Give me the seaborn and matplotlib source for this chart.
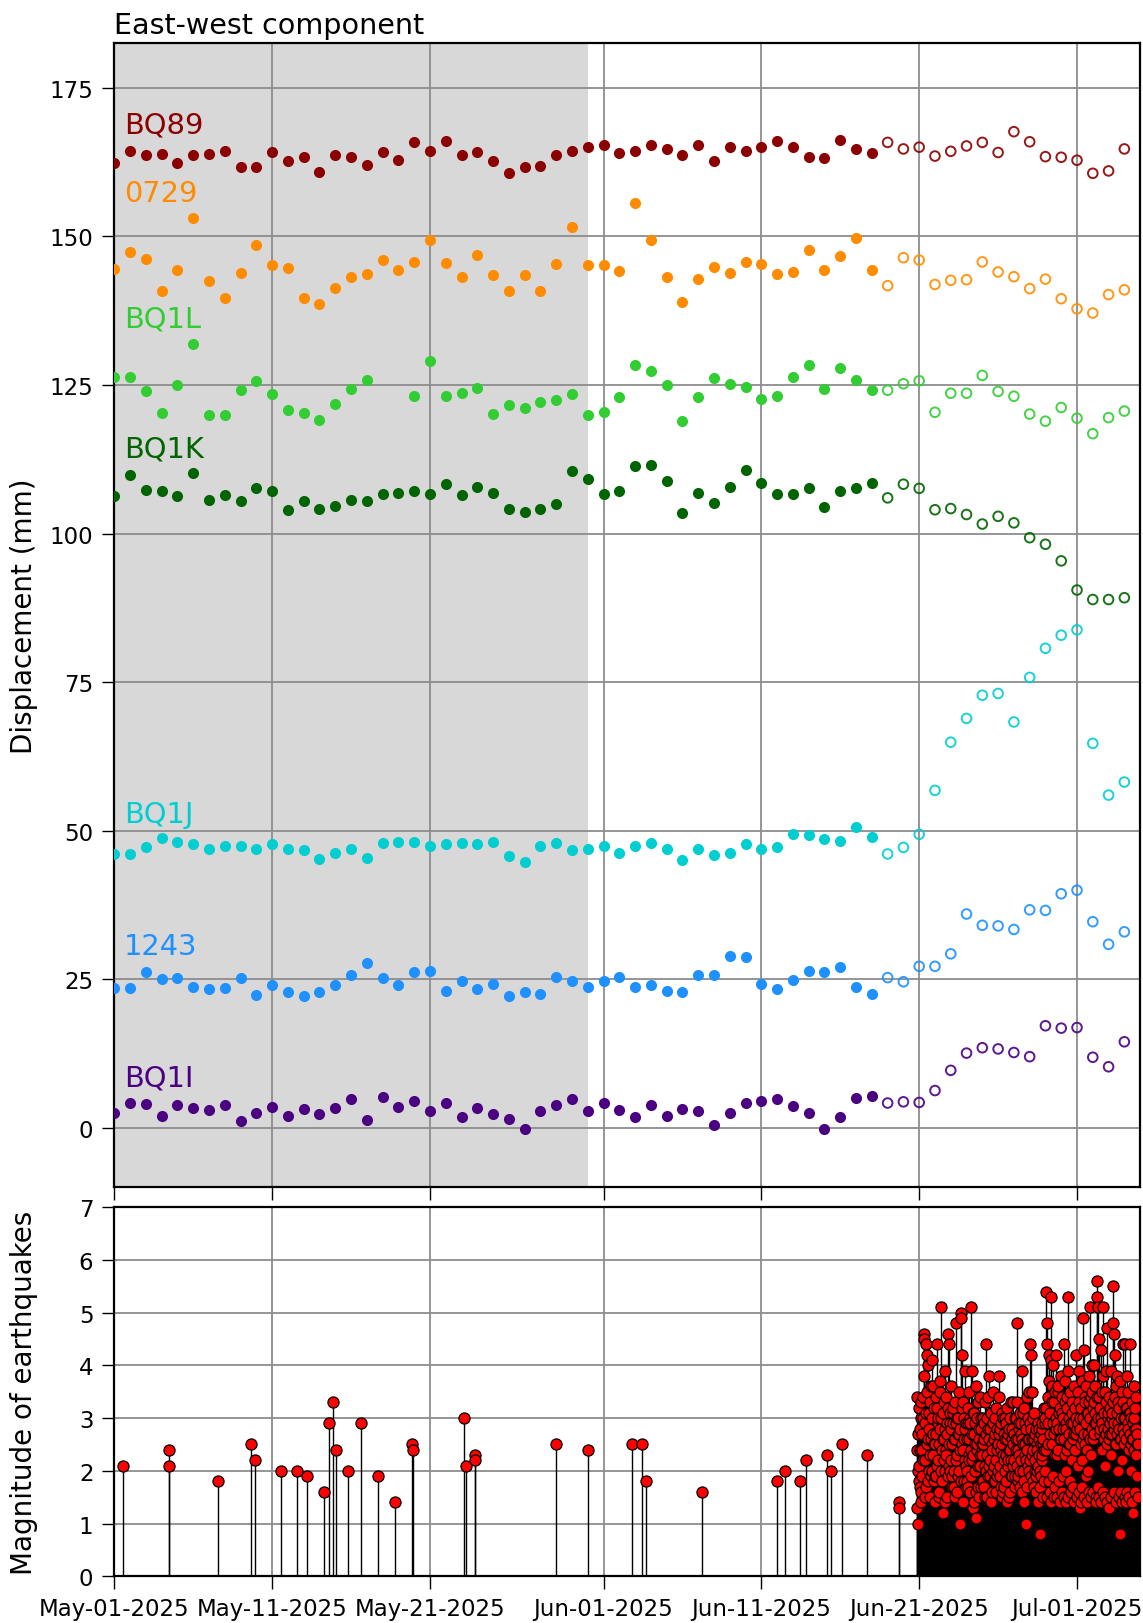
import numpy as np
import pandas as pd
import matplotlib
matplotlib.use("Agg")
import matplotlib.pyplot as plt
import matplotlib.dates as mdates
import seaborn as sns

plt.rcParams["font.family"] = ["DejaVu Sans"]

# ---------------------------------------------------------------- GNSS data
first_day = "2025-05-01"
n_days = 65
rapid_from = "2025-06-19"      # from this day on: rapid solutions (open markers)
reference_period = ("2025-05-01", "2025-05-31")

stations = ["BQ89", "0729", "BQ1L", "BQ1K", "BQ1J", "1243", "BQ1I"]
colors = ["#8b0000", "#ff8c00", "#32cd32", "#006400", "#00ced1", "#1e90ff", "#4b0082"]
label_y = [167.4, 156.0, 134.8, 113.0, 51.5, 29.3, 7.2]

bq89 = [162.4, 164.4, 163.7, 163.9, 162.4, 163.6, 163.8, 164.4, 161.6, 161.6,
        164.2, 162.6, 163.4, 160.8, 163.6, 163.4, 162.0, 164.2, 162.9, 165.8,
        164.4, 166.1, 163.6, 164.2, 162.6, 160.7, 161.6, 161.9, 163.6, 164.4,
        165.0, 165.4, 164.0, 164.4, 165.4, 164.7, 163.6, 165.4, 162.6, 165.0,
        164.4, 165.0, 166.1, 165.0, 163.4, 163.1, 166.2, 164.7, 164.0, 165.8,
        164.7, 165.0, 163.5, 164.3, 165.2, 165.8, 164.1, 167.6, 165.9, 163.4,
        163.3, 162.8, 160.6, 161.0, 164.7]
s0729 = [144.5, 147.3, 146.1, 140.8, 144.3, 153.0, 142.4, 139.7, 143.9, 148.6,
         145.2, 144.6, 139.7, 138.6, 141.3, 143.1, 143.7, 146.0, 144.4, 145.7,
         149.3, 145.5, 143.1, 146.9, 143.5, 140.8, 143.5, 140.8, 145.3, 151.6,
         145.1, 145.1, 144.2, 155.6, 149.3, 143.1, 139.0, 142.8, 144.9, 143.8,
         145.7, 145.3, 143.7, 144.0, 147.7, 144.3, 146.7, 149.8, 144.3, 141.7,
         146.4, 146.0, 141.9, 142.6, 142.7, 145.7, 144.0, 143.2, 141.2, 142.8,
         139.5, 137.8, 137.1, 140.2, 141.0]
bq1l = [126.4, 126.4, 123.9, 120.3, 125.0, 131.9, 119.9, 119.9, 124.1, 125.7,
        123.4, 120.7, 120.3, 119.1, 121.8, 124.3, 125.9, np.nan, np.nan, 123.1,
        129.0, 123.2, 123.6, 124.4, 120.1, 121.7, 121.2, 122.1, 122.5, 123.4,
        120.0, 120.5, 123.0, 128.4, 127.3, 125.0, 119.0, 123.0, 126.2, 125.2,
        124.6, 122.7, 123.2, 126.4, 128.3, 124.3, 127.9, 125.9, 124.1, 124.1,
        125.2, 125.7, 120.4, 123.6, 123.6, 126.6, 123.9, 123.1, 120.1, 118.9,
        121.2, 119.4, 116.8, 119.5, 120.6]
bq1k = [106.3, 109.8, 107.3, 107.1, 106.3, 110.2, 105.7, 106.5, 105.4, 107.6,
        107.1, 104.0, 105.4, 104.2, 104.7, 105.7, 105.5, 106.7, 106.9, 107.1,
        106.7, 108.3, 106.5, 107.9, 106.9, 104.1, 103.6, 104.2, 104.9, 110.5,
        109.1, 106.7, 107.1, 111.3, 111.6, 108.9, 103.4, 106.9, 105.1, 107.9,
        110.7, 108.5, 106.7, 106.7, 107.6, 104.5, 107.1, 107.6, 108.5, 106.0,
        108.3, 107.6, 104.0, 104.2, 103.2, 101.6, 102.9, 101.8, 99.3, 98.2,
        95.4, 90.5, 88.9, 88.9, 89.2]
bq1j = [46.1, 46.1, 47.3, 48.8, 48.1, 47.7, 47.0, 47.5, 47.5, 47.0,
        47.7, 47.0, 46.7, 45.2, 46.3, 47.0, 45.5, 47.9, 48.1, 48.1,
        47.5, 47.7, 47.9, 47.7, 48.1, 45.7, 44.8, 47.5, 47.9, 46.7,
        47.0, 47.5, 46.3, 47.5, 47.9, 47.0, 45.0, 47.0, 45.9, 46.3,
        47.7, 47.0, 47.3, 49.5, 49.3, 48.6, 48.3, 50.6, 49.0, 46.1,
        47.2, 49.4, 56.8, 64.9, 68.9, 72.8, 73.1, 68.3, 75.8, 80.7,
        82.9, 83.8, 64.7, 56.0, 58.2]
s1243 = [23.5, 23.5, 26.2, 25.0, 25.2, 23.8, 23.3, 23.5, 25.2, 22.4,
         24.0, 22.8, 22.2, 22.8, 24.0, 25.8, 27.8, 25.2, 24.0, 26.2,
         26.4, 23.1, 24.7, 23.3, 24.3, 22.2, 22.8, 22.5, 25.4, 24.7,
         23.8, 24.7, 25.4, 23.8, 24.1, 23.1, 22.8, 25.8, 25.8, 28.9,
         28.7, 24.2, 23.3, 24.9, 26.4, 26.2, 27.1, 23.8, 22.6, 25.3,
         24.6, 27.2, 27.2, 29.3, 36.0, 34.1, 34.0, 33.4, 36.7, 36.6,
         39.4, 40.0, 34.7, 30.9, 33.0]
bq1i = [2.5, 4.2, 4.0, 2.1, 3.9, 3.4, 3.1, 3.9, 1.2, 2.6,
        3.6, 2.1, 3.2, 2.4, 3.4, 4.8, 1.4, 5.2, 3.6, 4.6,
        2.8, 4.2, 1.9, 3.3, 2.4, 1.5, -0.2, 2.8, 3.9, 4.8,
        2.8, 4.2, 3.0, 1.9, 3.9, 2.1, 3.2, 2.8, 0.5, 2.6,
        4.2, 4.6, 4.8, 3.7, 2.6, -0.2, 1.9, 5.0, 5.3, 4.2,
        4.4, 4.3, 6.3, 9.7, 12.6, 13.5, 13.3, 12.7, 12.0, 17.2,
        16.8, 16.9, 11.9, 10.3, 14.5]
series = [bq89, s0729, bq1l, bq1k, bq1j, s1243, bq1i]

# ------------------------------------------------------------ earthquakes
quake_times = ["2025-05-01 12:45", "2025-05-04 11:15", "2025-05-04 11:30", "2025-05-07 13:40",
               "2025-05-09 15:35", "2025-05-09 21:35", "2025-05-11 14:10", "2025-05-12 14:25",
               "2025-05-13 04:35", "2025-05-14 06:15", "2025-05-14 14:25", "2025-05-14 20:25",
               "2025-05-15 00:30", "2025-05-15 18:45", "2025-05-16 14:55", "2025-05-17 17:15",
               "2025-05-18 19:00", "2025-05-19 21:20", "2025-05-19 21:30", "2025-05-23 04:05",
               "2025-05-23 07:10", "2025-05-23 20:05", "2025-05-23 20:15", "2025-05-28 23:00",
               "2025-05-31 01:00", "2025-06-02 19:40", "2025-06-03 09:50", "2025-06-03 15:50",
               "2025-06-07 06:15", "2025-06-11 23:45", "2025-06-12 11:15", "2025-06-13 11:30",
               "2025-06-13 20:10", "2025-06-15 04:05", "2025-06-15 10:05", "2025-06-16 02:25",
               "2025-06-17 16:05", "2025-06-19 16:45", "2025-06-19 17:00"]
quake_mags = [2.1, 2.4, 2.1, 1.8, 2.5, 2.2, 2.0, 2.0, 1.9, 1.6,
              2.9, 3.3, 2.4, 2.0, 2.9, 1.9, 1.4, 2.5, 2.4, 3.0,
              2.1, 2.3, 2.2, 2.5, 2.4, 2.5, 2.5, 1.8, 1.6, 1.8,
              2.0, 1.8, 2.2, 2.3, 2.0, 2.5, 2.3, 1.4, 1.3]

# swarm: half-hourly magnitudes, each list starting at the given time
swarm_starts = ["2025-06-20 20:00", "2025-06-21", "2025-06-22", "2025-06-23", "2025-06-24",
                "2025-06-25", "2025-06-26", "2025-06-27", "2025-06-28", "2025-06-29",
                "2025-06-30", "2025-07-01", "2025-07-02", "2025-07-03", "2025-07-04"]
swarm_step = "30min"
swarm_jun20 = [1.3, 2.4, 3.4, 2.0, 1.0, 2.7, 3.2, 1.8]
swarm_jun21 = [2.1, 1.7, 2.8, 2.4, 1.6, 3.0, 3.3, 1.4,
               2.4, 2.7, 1.9, 3.4, 3.0, 2.2, 4.6, 3.8,
               4.5, 2.9, 2.2, 1.5, 4.4, 3.1, 1.7, 2.5,
               4.2, 3.5, 2.6, 1.8, 4.0, 2.8, 3.1, 2.0,
               1.5, 3.3, 2.3, 2.6, 3.6, 1.9, 2.0, 3.0,
               4.1, 2.3, 2.7, 3.6, 1.8, 2.5, 3.2, 1.4]
swarm_jun22 = [2.5, 1.9, 3.4, 2.7, 1.9, 3.2, 4.4, 2.1,
               2.2, 2.9, 3.0, 1.5, 1.6, 2.5, 2.8, 3.5,
               3.7, 2.0, 5.1, 3.0, 2.4, 1.8, 1.8, 2.6,
               1.2, 3.1, 3.3, 2.2, 2.6, 1.4, 2.0, 2.8,
               3.9, 2.4, 2.3, 3.4, 1.5, 2.7, 2.9, 1.9,
               4.6, 3.2, 2.1, 2.5, 4.4, 2.0, 3.1, 2.9]
swarm_jun23 = [2.2, 2.8, 3.6, 1.9, 1.7, 2.5, 2.9, 3.1,
               3.2, 1.7, 2.0, 2.6, 2.6, 3.3, 1.5, 2.2,
               4.8, 2.9, 3.0, 1.6, 2.3, 2.7, 1.9, 3.0,
               3.5, 2.0, 2.7, 2.4, 1.0, 2.8, 5.0, 1.8,
               4.9, 3.2, 4.2, 2.5, 2.4, 1.4, 3.3, 2.6,
               1.8, 3.0, 2.8, 2.2, 3.9, 1.7, 2.1, 2.9]
swarm_jun24 = [2.6, 2.0, 1.8, 2.9, 3.2, 1.7, 2.3, 2.6,
               3.5, 2.2, 1.6, 3.0, 2.9, 2.4, 5.1, 1.9,
               3.9, 2.7, 2.2, 3.1, 1.3, 2.3, 2.7, 1.4,
               3.1, 2.5, 2.0, 2.9, 3.6, 1.6, 1.1, 2.4,
               2.5, 3.0, 3.3, 2.1, 1.7, 2.6, 2.8, 1.5,
               3.4, 2.3, 2.1, 2.8, 3.0, 1.7, 2.4, 2.5]
swarm_jun25 = [2.3, 1.8, 3.0, 2.5, 1.7, 2.9, 2.6, 2.1,
               3.3, 1.5, 4.4, 2.7, 2.0, 3.0, 1.5, 2.3,
               2.8, 1.9, 3.4, 2.6, 3.8, 2.1, 2.2, 2.8,
               1.9, 3.1, 3.1, 1.4, 2.5, 2.4, 1.6, 2.9,
               2.9, 2.0, 3.5, 2.6, 2.1, 1.8, 1.8, 3.0,
               2.7, 2.2, 3.2, 1.6, 2.4, 2.8, 1.9, 2.5]
swarm_jun26 = [2.5, 2.0, 3.4, 2.7, 3.8, 1.9, 2.1, 2.8,
               1.7, 2.4, 2.9, 1.5, 3.1, 2.5, 2.3, 3.0,
               1.6, 2.2, 2.7, 1.7, 3.0, 2.6, 2.0, 2.9,
               1.8, 2.3, 2.6, 1.4, 3.2, 2.1, 2.2, 2.7,
               1.5, 2.4, 2.8, 1.6, 2.4, 3.0, 3.3, 2.2,
               1.9, 2.8, 2.6, 1.9, 3.3, 2.5, 2.1, 2.7]
swarm_jun27 = [2.2, 2.7, 3.0, 1.9, 1.7, 2.4, 2.6, 3.0,
               4.8, 2.1, 3.3, 2.6, 2.4, 1.8, 1.9, 2.8,
               2.9, 2.3, 3.1, 1.7, 2.0, 2.9, 2.7, 2.2,
               1.6, 2.6, 3.9, 2.0, 2.5, 3.1, 3.2, 1.4,
               1.8, 2.5, 2.3, 2.9, 1.0, 2.2, 2.8, 1.7,
               3.4, 2.4, 2.1, 3.0, 2.6, 2.0, 3.5, 2.6]
swarm_jun28 = [2.9, 2.2, 4.4, 2.8, 4.2, 1.9, 3.5, 2.6,
               2.3, 3.0, 1.8, 2.4, 3.1, 1.7, 2.6, 2.2,
               2.0, 2.7, 2.8, 1.9, 1.6, 2.5, 2.4, 2.0,
               2.9, 1.4, 2.1, 2.6, 2.8, 2.3, 0.8, 2.0,
               1.7, 2.7, 2.5, 1.9, 2.2, 2.8, 2.9, 2.3,
               1.5, 2.5, 2.6, 1.8, 3.2, 2.4, 2.0, 2.9]
swarm_jun29 = [3.0, 2.4, 5.4, 3.2, 4.8, 1.5, 4.4, 2.9,
               2.5, 3.4, 3.7, 1.8, 4.2, 2.7, 1.6, 3.1,
               5.3, 1.4, 4.1, 3.6, 3.3, 2.5, 1.9, 2.9,
               4.0, 1.5, 2.7, 3.3, 3.5, 2.3, 1.7, 2.8,
               4.2, 3.0, 2.9, 1.5, 2.3, 3.5, 3.6, 2.4,
               1.8, 2.8, 3.1, 1.4, 2.6, 3.2, 3.8, 2.6]
swarm_jun30 = [2.6, 3.1, 3.4, 1.6, 1.9, 2.8, 3.0, 1.5,
               4.4, 2.6, 2.3, 3.3, 3.7, 1.4, 2.0, 2.9,
               2.8, 3.4, 3.2, 2.4, 5.3, 1.5, 3.9, 2.7,
               2.5, 3.0, 1.8, 2.5, 3.5, 1.6, 2.9, 1.6,
               2.2, 3.1, 3.3, 2.6, 1.7, 2.9, 2.7, 1.4,
               3.6, 2.4, 2.4, 3.2, 4.2, 2.7, 3.0, 1.5]
swarm_jul01 = [2.8, 1.5, 3.5, 2.9, 2.1, 3.3, 3.9, 1.6,
               1.3, 2.8, 3.0, 1.4, 2.5, 3.2, 3.7, 1.7,
               2.2, 3.0, 4.9, 2.6, 4.3, 1.5, 2.7, 3.4,
               3.3, 2.5, 1.9, 2.9, 3.6, 1.4, 2.4, 3.1,
               3.1, 2.7, 2.0, 3.3, 3.8, 1.6, 2.6, 3.0,
               5.1, 2.6, 3.4, 1.5, 2.3, 3.5, 4.0, 2.8]
swarm_jul02 = [3.2, 1.6, 2.6, 3.3, 4.0, 2.7, 2.9, 3.1,
               3.6, 1.5, 1.4, 2.9, 5.6, 3.4, 5.3, 1.7,
               5.1, 3.0, 3.4, 1.5, 4.5, 3.2, 2.7, 2.8,
               4.3, 1.4, 3.0, 3.5, 2.4, 2.9, 3.8, 1.6,
               5.1, 3.1, 2.8, 2.6, 3.5, 1.5, 2.1, 3.3,
               3.9, 2.7, 4.7, 1.4, 2.5, 3.0, 3.1, 2.8]
swarm_jul03 = [1.3, 2.6, 3.4, 2.9, 2.7, 3.2, 3.9, 1.5,
               2.3, 3.0, 3.1, 2.7, 5.5, 3.3, 4.8, 1.6,
               4.6, 2.8, 2.9, 3.4, 4.2, 2.5, 3.6, 1.4,
               2.5, 3.1, 3.8, 2.7, 2.0, 2.9, 3.3, 1.5,
               2.8, 3.2, 3.7, 2.6, 0.8, 1.6, 2.6, 3.0,
               3.5, 1.4, 2.2, 2.8, 4.4, 3.3, 3.0, 2.5]
swarm_jul04 = [2.7, 1.5, 4.4, 3.0, 3.2, 2.6, 1.4, 3.2,
               3.8, 1.6, 2.9, 2.8, 3.5, 1.5, 2.4, 3.1,
               3.1, 2.7, 4.4, 2.5, 2.0, 3.0, 3.3, 1.4,
               2.6, 2.9, 1.2, 2.6, 3.6, 2.4, 3.0, 3.2,
               2.8, 1.6, 2.3, 2.8, 3.4, 2.5, 1.9, 2.7,
               2.5, 1.5]
swarm_lists = [swarm_jun20, swarm_jun21, swarm_jun22, swarm_jun23, swarm_jun24,
               swarm_jun25, swarm_jun26, swarm_jun27, swarm_jun28, swarm_jun29,
               swarm_jun30, swarm_jul01, swarm_jul02, swarm_jul03, swarm_jul04]

# ------------------------------------------------------------ tables
dates = pd.date_range(first_day, periods=n_days, freq="D")

frames = [pd.DataFrame({"time": pd.to_datetime(quake_times), "mag": quake_mags})]
for start, mags in zip(swarm_starts, swarm_lists):
    t = pd.date_range(start, periods=len(mags), freq=swarm_step)
    frames.append(pd.DataFrame({"time": t, "mag": mags}))
quakes = pd.concat(frames, ignore_index=True).sort_values("time").reset_index(drop=True)

# ------------------------------------------------------------ figure
fig = plt.figure(figsize=(11.43, 16.24), dpi=100)
ax1 = fig.add_axes([0.1, 0.2682, 0.8975, 0.7050])
ax2 = fig.add_axes([0.1, 0.0288, 0.8975, 0.2272], sharex=ax1)

xmin, xmax = pd.Timestamp("2025-05-01"), pd.Timestamp("2025-07-05")

ax1.axvspan(pd.Timestamp(reference_period[0]), pd.Timestamp(reference_period[1]),
            color="#d8d8d8", zorder=0, lw=0)

label_x = pd.Timestamp(first_day) + pd.Timedelta(hours=15)
for name, col, vals, ly in zip(stations, colors, series, label_y):
    s = pd.Series(vals, index=dates, dtype=float)
    filled = s[s.index < rapid_from].dropna()
    hollow = s[s.index >= rapid_from].dropna()
    sns.scatterplot(x=filled.index, y=filled.values, ax=ax1, color=col,
                    s=64, linewidth=0, zorder=3)
    sns.scatterplot(x=hollow.index, y=hollow.values, ax=ax1, facecolor="none",
                    edgecolor=col, s=48, linewidth=1.4, alpha=0.9, zorder=3)
    ax1.text(label_x, ly, name, color=col, fontsize=20.8, ha="left", va="baseline")

# earthquake stems
ax2.vlines(quakes["time"], 0, quakes["mag"], color="black", lw=1.0, zorder=2)
sns.scatterplot(data=quakes, x="time", y="mag", ax=ax2, color="red",
                edgecolor="black", linewidth=0.9, s=64, zorder=3)

for ax in (ax1, ax2):
    ax.set_xlim(xmin, xmax)
    ax.grid(True, color="0.55", lw=1.3)
    ax.xaxis.set_major_locator(mdates.DayLocator(bymonthday=[1, 11, 21]))
    ax.xaxis.set_major_formatter(mdates.DateFormatter("%b-%d-%Y"))
    ax.tick_params(length=9, width=1.0, labelsize=16.5, pad=6)
    for sp in ax.spines.values():
        sp.set_linewidth(1.6)

ax1.set_ylim(-10, 182.6)
ax1.set_yticks(np.arange(0, 176, 25))
ax1.tick_params(labelbottom=False)
ax1.set_xlabel("")
ax1.set_ylabel("Displacement (mm)", fontsize=20)
ax1.yaxis.set_label_coords(-0.074, 0.5)
ax1.set_title("East-west component", loc="left", fontsize=20.6, pad=7)

ax2.set_ylim(0, 7)
ax2.set_yticks(np.arange(0, 8, 1))
ax2.set_xlabel("")
ax2.set_ylabel("Magnitude of earthquakes", fontsize=20)
ax2.yaxis.set_label_coords(-0.074, 0.5)

fig.savefig("out.png", dpi=100)
